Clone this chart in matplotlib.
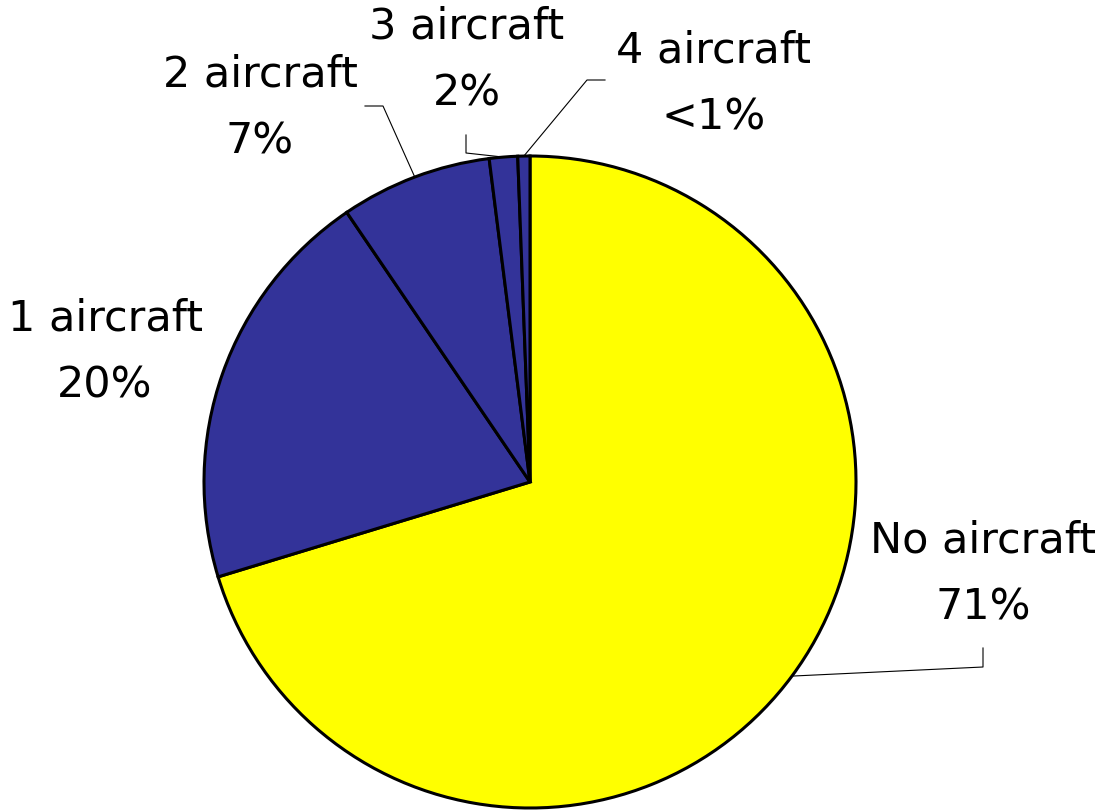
import numpy as np
import matplotlib.pyplot as plt

plt.rcParams['font.family'] = ['DejaVu Sans']

categories = ["No aircraft", "1 aircraft", "2 aircraft", "3 aircraft", "4 aircraft"]
shares = [70.3, 20.2, 7.5, 1.4, 0.6]
pct_labels = ["71%", "20%", "7%", "2%", "<1%"]
colors = ["#FFFF00", "#333399", "#333399", "#333399", "#333399"]

W, H = 1104, 810
cx, cy, r = 530, H - 482, 326

fig = plt.figure(figsize=(W / 100, H / 100), dpi=100)
ax = fig.add_axes([0, 0, 1, 1])
ax.axis('off')

wedges, _ = ax.pie(shares, colors=colors, startangle=90, counterclock=False,
                   center=(cx, cy), radius=r,
                   wedgeprops=dict(edgecolor='black', linewidth=2.2))
ax.set_xlim(0, W)
ax.set_ylim(0, H)
ax.set_aspect('equal')

# label text centres (pixels from top-left) and leader elbows
label_pos = [(983, 574), (105, 352), (260, 108), (467, 60), (714, 84)]
elbows = [
    [(983, 667), (983, 648)],
    None,
    [(383, 106), (365, 106)],
    [(466, 153), (466, 135)],
    [(587, 80), (605, 80)],
]

for w, name, pct, (tx, ty), elb in zip(wedges, categories, pct_labels, label_pos, elbows):
    ax.text(tx, H - ty, f"{name}\n{pct}", ha='center', va='center',
            fontsize=31, linespacing=1.75)
    if elb is None:
        continue
    mid = np.deg2rad((w.theta1 + w.theta2) / 2)
    px, py = cx + r * np.cos(mid), cy + r * np.sin(mid)
    xs = [px] + [e[0] for e in elb]
    ys = [py] + [H - e[1] for e in elb]
    ax.plot(xs, ys, color='black', linewidth=0.8, zorder=0.5)

fig.savefig('out.png', dpi=100)
